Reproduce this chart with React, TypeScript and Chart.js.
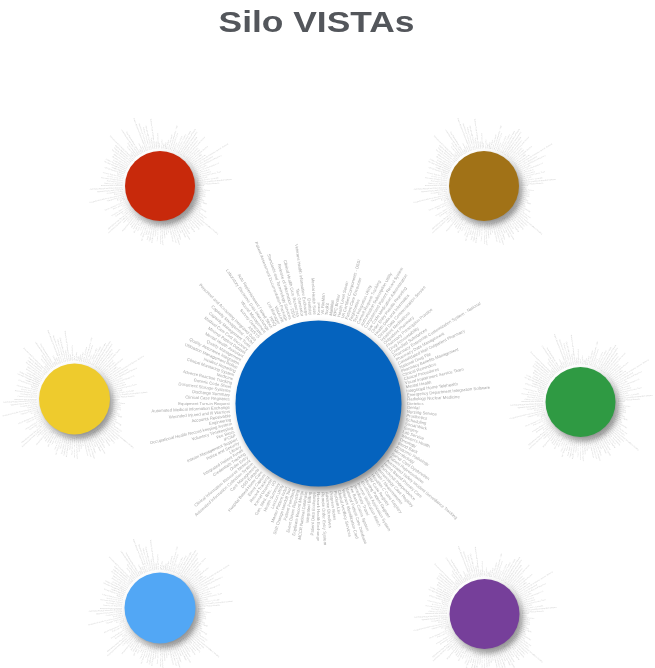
import React, { useEffect, useRef } from "react";
import { Chart, registerables } from "chart.js";

Chart.register(...registerables);

const chartTitle = "Silo VISTAs";

const siloNames = ["Silo 1", "Silo 2", "Silo 3", "Central Silo", "Silo 4", "Silo 5", "Silo 6"];
const siloX = [160, 484, 74.5, 318.5, 580.5, 160, 484.5];
const siloY = [186, 186, 399, 403.5, 402, 608, 614];
const siloR = [35, 35, 35.5, 83, 35, 35.5, 35];
const siloColors = ["#c8290b", "#a17217", "#eecb2d", "#0563be", "#2f9a43", "#52a7f5", "#763f9a"];

const vistaPackages = [
  "Kernel", "VA FileMan", "Toolkit", "MailMan", "RPC Broker", "Health Level Seven",
  "VA Certified Components - DSSI", "Patient Care Encounter", "Registration",
  "Text Integration Utility", "Consult Request Tracking", "Authorization Subscription Utility",
  "Computerized Patient Record System", "Bar Code Medication Administration",
  "Order Entry Results Reporting", "Health Data and Informatics",
  "Clinical Data Communication Service", "Inpatient Medications", "Outpatient Pharmacy",
  "Pharmacy Prescription Practice", "Drug Accountability", "Controlled Substances",
  "Pharmacy Enterprise Customization System - National", "Pharmacy Data Management",
  "Consolidated Mail Outpatient Pharmacy", "National Drug File", "Pharmacy Benefits Management",
  "Clinical Reminders", "Clinical Procedures", "Visual Impairment Service Team", "Mental Health",
  "Integrated Home Telehealth", "Emergency Department Integration Software",
  "Radiology Nuclear Medicine", "Dietetics",
  "Dental", "Nursing Service", "Prosthetics", "Scheduling", "Social Work", "Surgery",
  "Lab Service", "Women's Health", "Oncology", "Blood Bank", "Anatomic Pathology",
  "Microbiology", "Spinal Cord Dysfunction", "Patient Representative",
  "Automated Safety Incident Surveillance Tracking", "Home Based Primary Care",
  "Functional Independence", "Immunology Case Registry", "Vitals / Measurements",
  "Hepatitis C Case Registry", "HIV Case Registry", "Missing Patient Register",
  "Enrollment Application System", "Income Verification Match", "Beneficiary Travel",
  "Fee Basis Claims System", "National Patient Care Database", "Veterans Identification Card",
  "Clinical Ancillary Services", "Problem List", "Progress Notes", "Advance Directives",
  "Remote Order Entry System", "Network Health Exchange", "Patient Data Exchange",
  "Integrated Billing", "MCCR National Database", "Duplicate Record Merge",
  "Event Driven Reporting", "Patient Feedback", "Shift Change Handoff Tool",
  "Master Patient Index", "Lexicon Utility", "Health Summary", "Gen. Med. Rec. - I/O",
  "Kernel Unwinder", "Record Tracking", "Event Capture", "Hospital Based Home Care",
  "DSS Extracts", "Care Management", "Automated Information Collection System",
  "Clinical Information Resource Network", "Order Entry", "Credentials Tracking",
  "Integrated Patient Funds", "Library", "Police and Security", "Interim Management Support",
  "IFCAP", "Fee Basis", "Voluntary Timekeeping", "Occupational Health Record-keeping System",
  "Engineering", "Accounts Receivable", "Wounded Injured and Ill Warriors",
  "Automated Medical Information Exchange", "Equipment Turn-in Request",
  "Clinical Case Registries", "Discharge Summary", "Document Storage Systems",
  "Generic Code Sheet", "Adverse Reaction Tracking", "Medicine", "Clinical Monitoring System",
  "Incident Reporting", "Utilization Management Rollup", "Quality Assurance Integration",
  "Quality Management", "Mental Health Assistant", "Minimal Patient Dataset",
  "Medical Care Cost Recovery", "Capacity Management Tools", "Capacity Management - RUM",
  "Personnel and Accounting Integrated Data", "ASISTS", "Survey Generator",
  "Wound Management", "Laboratory Electronic Data Interchange", "Auto Replenishment / Ward Stock",
  "HINQ", "List Manager", "VistALink", "Patient Assessment Documentation Package",
  "Standards and Terminology Services", "Release of Information - DSSI",
  "Clinical Health Care Resources", "Text Generator", "Veterans Health Information Exchange",
  "Dentistry", "Mental Health Suite",
];

const TITLE_SIZE = 29;
const TITLE_PAD_TOP = 7;
const TITLE_PAD_BOTTOM = 0;
const RIGHT_PAD = 22;
const WIDTH = 655;
const HEIGHT = 668;

function lighten(hex: string, amt: number) {
  const n = parseInt(hex.slice(1), 16);
  const c = [(n >> 16) & 255, (n >> 8) & 255, n & 255].map((v) =>
    Math.round(amt >= 0 ? v + (255 - v) * amt : v * (1 + amt))
  );
  return `rgb(${c[0]},${c[1]},${c[2]})`;
}

const silosPlugin = {
  id: "siloDecor",
  beforeDraw(chart: any) {
    const ctx = chart.ctx;
    const t = chart.titleBlock;
    ctx.save();
    if (t) {
      const cx = (t.left + t.right) / 2;
      ctx.translate(cx, 0);
      ctx.scale(1.22, 1);
      ctx.translate(-cx, 0);
    }
  },
  beforeDatasetsDraw(chart: any) {
    const ctx = chart.ctx;
    ctx.restore();
    const meta = chart.getDatasetMeta(0);
    const n = vistaPackages.length;
    meta.data.forEach((pt: any, idx: number) => {
      const { x, y } = pt.getProps(["x", "y"], true);
      const r = siloR[idx];
      const big = r > 60;
      const fs = r * 0.051;
      const gap = r * 0.07;
      ctx.save();
      ctx.font = `${fs}px "Liberation Sans", Arial, sans-serif`;
      ctx.fillStyle = big ? "#a8a8a8" : "#cdcdcd";
      ctx.textBaseline = "middle";
      for (let i = 0; i < n; i++) {
        const a = -Math.PI / 2 + (i * 2 * Math.PI) / n;
        ctx.save();
        ctx.translate(x, y);
        if (Math.cos(a) >= 0) {
          ctx.rotate(a);
          ctx.textAlign = "left";
          ctx.fillText(vistaPackages[i], r + gap, 0);
        } else {
          ctx.rotate(a + Math.PI);
          ctx.textAlign = "right";
          ctx.fillText(vistaPackages[i], -(r + gap), 0);
        }
        ctx.restore();
      }
      ctx.restore();
    });
    ctx.save();
    ctx.shadowColor = "rgba(0,0,0,0.45)";
    ctx.shadowBlur = 6;
    ctx.shadowOffsetX = 3;
    ctx.shadowOffsetY = 4;
  },
  afterDatasetsDraw(chart: any) {
    chart.ctx.restore();
  },
};

export default function App() {
  const ref = useRef<HTMLCanvasElement | null>(null);
  useEffect(() => {
    if (!ref.current) return;
    const titleBlock = TITLE_PAD_TOP + TITLE_SIZE * 1.2 + TITLE_PAD_BOTTOM;
    const chart = new Chart(ref.current, {
      type: "bubble",
      data: {
        datasets: [
          {
            label: "Silos",
            data: siloNames.map((_, i) => ({ x: siloX[i], y: siloY[i], r: siloR[i] })),
            backgroundColor: (c: any) => {
              const base = siloColors[c.dataIndex] || "#888888";
              const el = c.element;
              if (!el || c.type !== "data") return base;
              const { y } = el.getProps(["y"], true);
              const r = siloR[c.dataIndex];
              if (!isFinite(y)) return base;
              const g = c.chart.ctx.createLinearGradient(0, y - r, 0, y + r);
              g.addColorStop(0, lighten(base, 0.06));
              g.addColorStop(1, lighten(base, -0.04));
              return g;
            },
            borderWidth: 0,
            hoverRadius: 0,
            hitRadius: 0,
            clip: false,
          } as any,
        ],
      },
      options: {
        animation: false,
        responsive: true,
        maintainAspectRatio: false,
        events: [],
        layout: { autoPadding: false, padding: { left: 0, top: 0, bottom: 0, right: RIGHT_PAD } },
        scales: {
          x: { type: "linear", min: 0, max: WIDTH - RIGHT_PAD, display: false },
          y: { type: "linear", min: titleBlock, max: HEIGHT, reverse: true, display: false },
        },
        plugins: {
          legend: { display: false },
          tooltip: { enabled: false },
          title: {
            display: true,
            text: chartTitle,
            color: "#53565b",
            font: { family: '"Liberation Sans", Arial, sans-serif', size: TITLE_SIZE, weight: "bold" },
            padding: { top: TITLE_PAD_TOP, bottom: TITLE_PAD_BOTTOM },
          },
        },
      },
      plugins: [silosPlugin],
    });
    return () => chart.destroy();
  }, []);
  return (
    <div style={{ position: "absolute", left: 0, top: 0, width: WIDTH, height: HEIGHT }}>
      <canvas ref={ref} />
    </div>
  );
}
